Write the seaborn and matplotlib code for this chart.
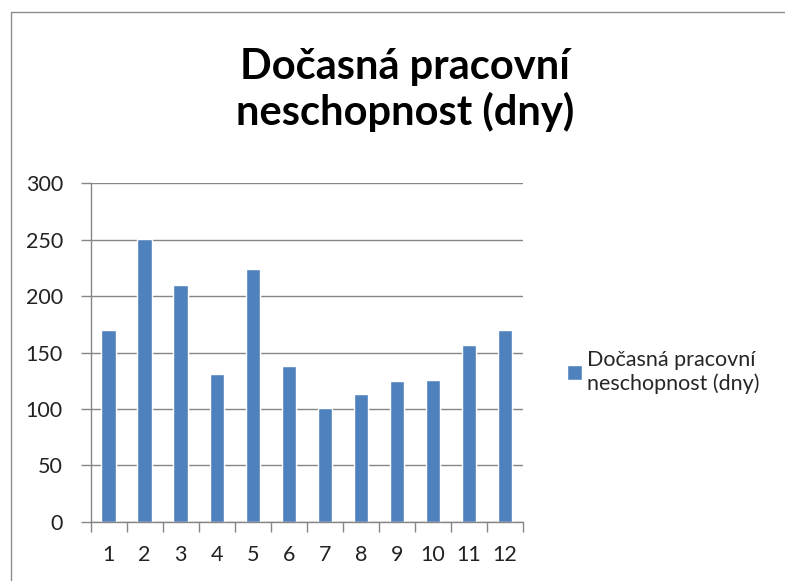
import numpy as np
import pandas as pd
import matplotlib
matplotlib.use("Agg")
import matplotlib.pyplot as plt
from matplotlib.lines import Line2D
import seaborn as sns

# Data
months = ["1", "2", "3", "4", "5", "6", "7", "8", "9", "10", "11", "12"]
days = [170, 251, 210, 131, 224, 138, 101, 113, 125, 126, 157, 170]
series_name = "Dočasná pracovní\nneschopnost (dny)"

sns.set_style("white")
plt.rcParams["font.family"] = ["Lato", "DejaVu Sans"]

df = pd.DataFrame({"mesic": months, "dny": days})

fig = plt.figure(figsize=(7.85, 5.81), dpi=100)
ax = fig.add_axes([0.1155, 0.102, 0.5505, 0.5825])

sns.barplot(data=df, x="mesic", y="dny", color="#4F81BD", width=0.4,
            saturation=1, label=series_name, ax=ax)

grey = "#868686"
ax.set_ylim(0, 300)
ax.set_xlim(-0.5, len(months) - 0.5)
ax.set_yticks(np.arange(0, 301, 50))
ax.yaxis.grid(True, color=grey, linewidth=1)
ax.set_axisbelow(True)
ax.set_xlabel("")
ax.set_ylabel("")
for side in ["top", "right"]:
    ax.spines[side].set_visible(False)
for side in ["left", "bottom"]:
    ax.spines[side].set_color(grey)
    ax.spines[side].set_linewidth(1)

ax.set_xticks(np.arange(-0.5, len(months)), minor=True)
ax.tick_params(axis="x", which="major", length=0, pad=17, labelsize=15.5, labelcolor="#222222")
ax.tick_params(axis="x", which="minor", length=7, color=grey, width=1, direction="out")
ax.tick_params(axis="y", length=7, color=grey, width=1, direction="out", pad=13,
               labelsize=15.5, labelcolor="#222222")
ax.tick_params(bottom=True, left=True)
ax.xaxis.set_tick_params(which="minor", bottom=True)

fig.text(0.516, 0.845, "Dočasná pracovní\nneschopnost (dny)", ha="center", va="center",
         fontsize=30, fontweight="bold", linespacing=1.15, color="black")

leg = ax.legend(loc="center left", bbox_to_anchor=(0.722, 0.36), bbox_transform=fig.transFigure,
                frameon=False, fontsize=15.5, handlelength=0.7, handleheight=0.7,
                handletextpad=0.25, borderpad=0, borderaxespad=0)

# chart area border
fig.add_artist(Line2D([0.014, 0.014], [0.0, 0.979], transform=fig.transFigure, color="#8c8c8c", lw=1))
fig.add_artist(Line2D([0.014, 1.0], [0.979, 0.979], transform=fig.transFigure, color="#8c8c8c", lw=1))

fig.savefig("out.png", dpi=100, facecolor="white")
